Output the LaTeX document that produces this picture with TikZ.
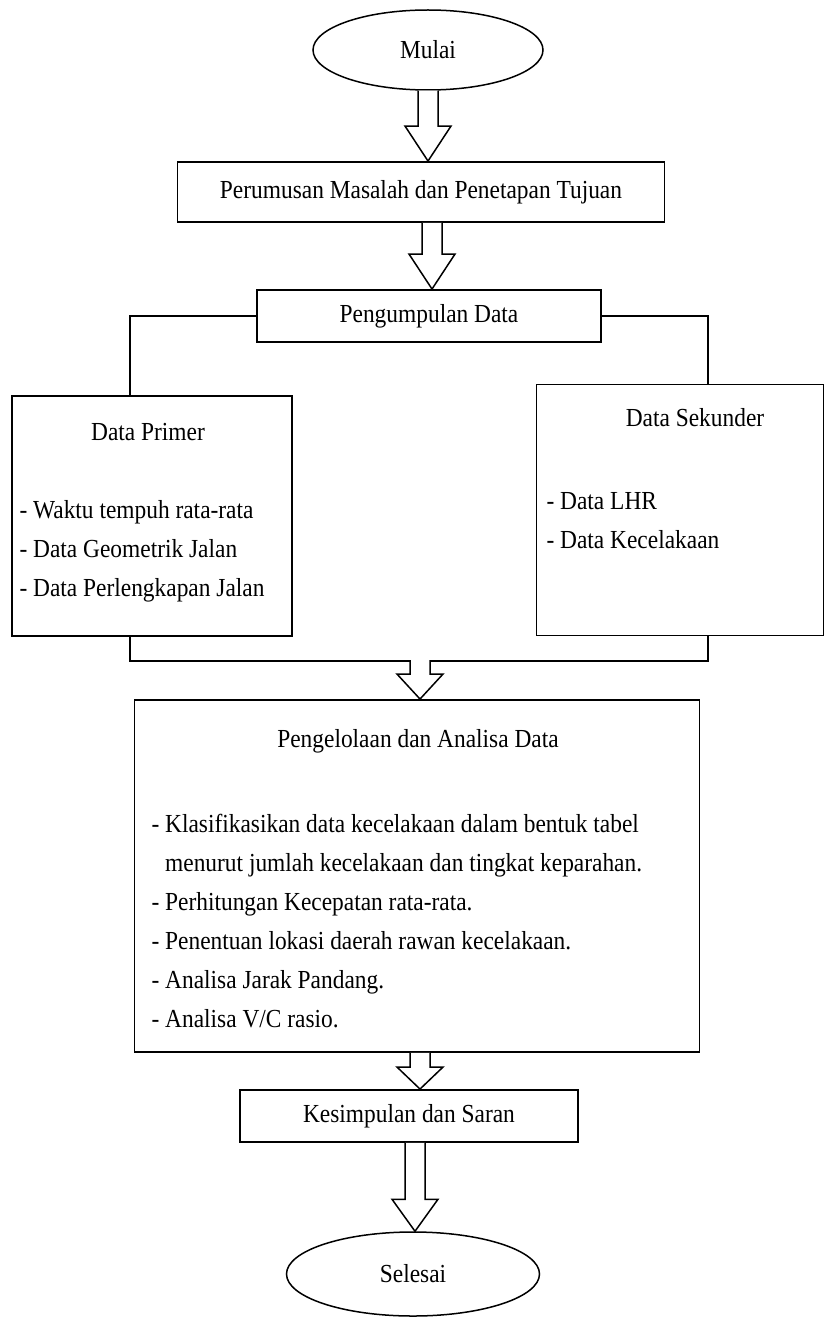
\documentclass[tikz,border=0pt]{standalone}
\usepackage{fontspec}
\setmainfont{Liberation Serif}[FakeStretch=0.9]
\usetikzlibrary{shapes.geometric,calc}

\tikzset{
  terminal/.style={draw,ellipse,line width=1.5pt,inner sep=0pt},
  process/.style={draw,rectangle,line width=1.9pt,inner sep=0pt},
  fatarr/.style={line width=1.5pt,fill=white},
  link/.style={line width=1.6pt},
  listtext/.style={anchor=west,align=left}
}
% block arrow: x of shaft, source, target, head length
\newcommand{\fatarrow}[4]{%
  \draw[fatarr] (#1-10,0 |- #2) -- ($(#1-10,0 |- #3)+(0,-#4)$) -- ($(#1-23,0 |- #3)+(0,-#4)$) -- (#1,0 |- #3) -- ($(#1+23,0 |- #3)+(0,-#4)$) -- ($(#1+10,0 |- #3)+(0,-#4)$) -- (#1+10,0 |- #2);}

\begin{document}
\begin{tikzpicture}[x=1pt,y=1pt,yscale=-1,xscale=1,font=\fontsize{26}{39}\selectfont]
		\useasboundingbox (0,0) rectangle (836,1321);
		
		% terminals and boxes
		\node [terminal,minimum width=230pt,minimum height=80pt] (start) at (428,50) {Mulai};
		\node [process,minimum width=487pt,minimum height=60pt] (prob) at (421,192) {Perumusan Masalah dan Penetapan Tujuan};
		\node [process,minimum width=344pt,minimum height=52pt] (collect) at (429,316) {Pengumpulan Data};
		\node [process,minimum width=280pt,minimum height=240pt] (primer) at (152,516) {};
		\node [process,minimum width=287pt,minimum height=251pt] (sekunder) at (680,510) {};
		\node [process,minimum width=565pt,minimum height=352pt] (analysis) at (417,876) {};
		\node [process,minimum width=338pt,minimum height=52pt] (concl) at (409,1116) {Kesimpulan dan Saran};
		\node [terminal,minimum width=253pt,minimum height=84pt] (finish) at (413,1274) {Selesai};
		
		% box texts
		\node (primerhead) at (148,432) {Data Primer};
		\node [listtext] (primerlist) at (16,551) {- Waktu tempuh rata-rata\\- Data Geometrik Jalan\\- Data Perlengkapan Jalan};
		\node (sekhead) at (695,418) {Data Sekunder};
		\node [listtext] (seklist) at (543,521) {- Data LHR\\- Data Kecelakaan};
		\node (anahead) at (418,741) {Pengelolaan dan Analisa Data};
		\node [listtext] (analist) at (148,921) {- Klasifikasikan data kecelakaan dalam bentuk tabel\\\phantom{- }menurut jumlah kecelakaan dan tingkat keparahan.\\- Perhitungan Kecepatan rata-rata.\\- Penentuan lokasi daerah rawan kecelakaan.\\- Analisa Jarak Pandang.\\- Analisa V/C rasio.};
		
		% branches
		\draw [link] (collect.west) -| ([xshift=-22pt]primer.north);
		\draw [link] (collect.east) -| ([xshift=28pt]sekunder.north);
		\draw [link] ([xshift=-22pt]primer.south) -- ++(0,24) -| ([xshift=28pt]sekunder.south);
		\coordinate (merge) at (420,660);
		
		% block arrows
		\fatarrow{428}{start.south}{prob.north}{35}
		\fatarrow{432}{prob.south}{collect.north}{35}
		\fatarrow{420}{merge}{analysis.north}{25}
		\fatarrow{420}{analysis.south}{concl.north}{22}
		\fatarrow{415}{concl.south}{finish.north}{32}
		
\end{tikzpicture}
\end{document}
